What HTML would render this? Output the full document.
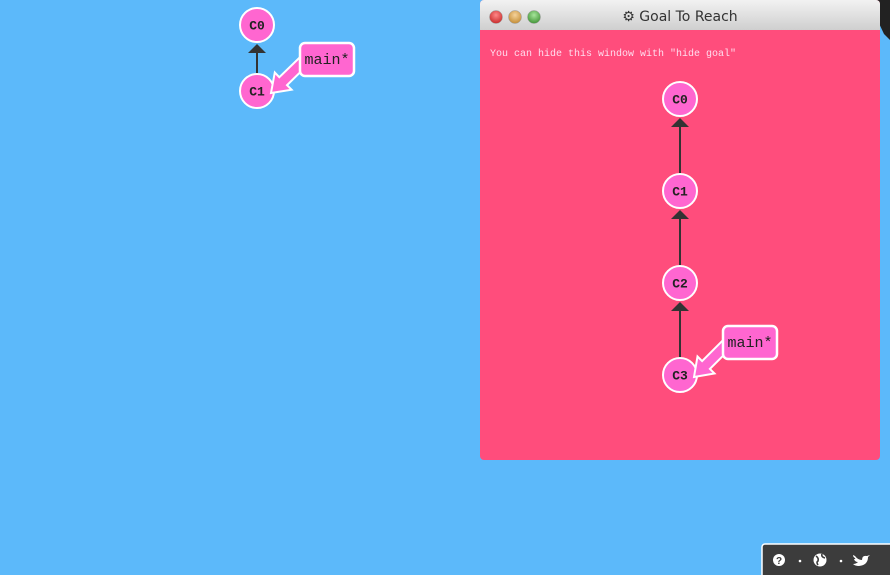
<!DOCTYPE html>
<html><head><meta charset="utf-8"><style>
html,body{margin:0;padding:0;width:890px;height:575px;overflow:hidden;background:#5cb9fa;font-family:"Liberation Sans",sans-serif}
</style></head><body>
<svg id="s" width="890" height="575" xmlns="http://www.w3.org/2000/svg">
<defs>
<linearGradient id="tb" x1="0" y1="0" x2="0" y2="1"><stop offset="0" stop-color="#f2f2f2"/><stop offset="1" stop-color="#cfcfcf"/></linearGradient>
<radialGradient id="rd" cx="0.5" cy="0.35" r="0.6"><stop offset="0" stop-color="#f88"/><stop offset="1" stop-color="#c33"/></radialGradient>
<radialGradient id="yl" cx="0.5" cy="0.35" r="0.6"><stop offset="0" stop-color="#f5d29a"/><stop offset="1" stop-color="#c8933f"/></radialGradient>
<radialGradient id="gr" cx="0.5" cy="0.35" r="0.6"><stop offset="0" stop-color="#a6e59a"/><stop offset="1" stop-color="#4a9a3f"/></radialGradient>
</defs>
<polygon points="868,0 890,0 890,40 884,34" fill="#222"/>
<g>
<rect x="480" y="0" width="400" height="460" rx="4" fill="#ff4d7c"/>
<path d="M480 30 V4 a4 4 0 0 1 4 -4 H876 a4 4 0 0 1 4 4 V30 Z" fill="url(#tb)"/>
<circle cx="496" cy="17" r="6.5" fill="url(#rd)" stroke="#999" stroke-width="0.5"/>
<circle cx="515" cy="17" r="6.5" fill="url(#yl)" stroke="#999" stroke-width="0.5"/>
<circle cx="534" cy="17" r="6.5" fill="url(#gr)" stroke="#999" stroke-width="0.5"/>
<text x="680" y="21" text-anchor="middle" font-size="14" fill="#333" font-family="DejaVu Sans, sans-serif">⚙ Goal To Reach</text>
<text x="490" y="56" font-size="10" fill="#fde" font-family="Liberation Mono, monospace">You can hide this window with "hide goal"</text>
</g>
<g id="graph"></g>
<g>
<rect x="762" y="544" width="140" height="40" rx="3" fill="#3c3c3c" stroke="#fff" stroke-width="1.5"/>
<circle cx="779" cy="560" r="6" fill="#fff"/>
<text x="779" y="564" text-anchor="middle" font-size="10" font-weight="bold" fill="#3c3c3c">?</text>
<circle cx="800" cy="561" r="1.3" fill="#fff"/>
<circle cx="820" cy="560" r="6.5" fill="#fff"/>
<path d="M816 556 q3 2 2 5 q-2 1 0 4 M822 554 q-1 3 3 4" stroke="#3c3c3c" stroke-width="1.6" fill="none"/>
<circle cx="841" cy="561" r="1.3" fill="#fff"/>
<path d="M855 556 q3 4 7 4 q0 -5 5 -4 l3 -1 -2 2 q0 8 -9 9 q-4 0 -6 -2 q3 0 5 -2 q-3 0 -4 -3 q2 0 1 -1 q-2 -1 -2 -3 z" fill="#fff"/>
</g>
</svg>
<script>
const leftNodes=["C0","C1"];
const leftY=[25,91];
const leftX=257;
const goalNodes=["C0","C1","C2","C3"];
const goalY=[99,191,283,375];
const goalX=680;
const NS="http://www.w3.org/2000/svg";
const g=document.getElementById("graph");
function mk(t,a){const e=document.createElementNS(NS,t);for(const k in a)e.setAttribute(k,a[k]);g.appendChild(e);return e;}
function drawTree(x,ys,names,prefix){
  for(let i=1;i<ys.length;i++){
    const l=mk("line",{x1:x,y1:ys[i]-17,x2:x,y2:ys[i-1]+26,stroke:"#333","stroke-width":2});
    
    
    const p=mk("polygon",{points:`${x-9},${ys[i-1]+28} ${x+9},${ys[i-1]+28} ${x},${ys[i-1]+19}`,fill:"#333"});
    
    
  }
  ys.forEach((y,i)=>{
    const c=mk("circle",{cx:x,cy:y,r:17,fill:"#ff66d0",stroke:"#fff","stroke-width":2});
    
    
    const t=mk("text",{x:x,y:y+4.5,"text-anchor":"middle","font-size":13,"font-weight":"bold","font-family":"Liberation Mono, monospace",fill:"#222"});
    t.textContent=names[i];
    
    
  });
}
function branch(bx,by,tx,ty,prefix){
  const sx=bx+8,sy=by+14;
  let dx=tx-sx,dy=ty-sy;const L=Math.hypot(dx,dy);dx/=L;dy/=L;
  const px=-dy,py=dx,hl=17,hw=12,sw=5.5;
  const hbx=tx-dx*hl,hby=ty-dy*hl;
  const pts=[[sx+px*sw,sy+py*sw],[hbx+px*sw,hby+py*sw],[hbx+px*hw,hby+py*hw],[tx,ty],[hbx-px*hw,hby-py*hw],[hbx-px*sw,hby-py*sw],[sx-px*sw,sy-py*sw]];
  const a=mk("polygon",{points:pts.map(p=>p[0].toFixed(1)+","+p[1].toFixed(1)).join(" "),fill:"#ff66d0",stroke:"#fff","stroke-width":2});
  
  
  const r=mk("rect",{x:bx,y:by,width:54,height:33,rx:5,fill:"#ff66d0",stroke:"#fff","stroke-width":2.5});
  
  
  const t=mk("text",{x:bx+27,y:by+21,"text-anchor":"middle","font-size":15,"font-family":"Liberation Mono, monospace",fill:"#222"});
  t.textContent="main*";
  
  
}
drawTree(leftX,leftY,leftNodes,"repo");
branch(300,43,leftX+14,leftY[1]+2,"repo");
drawTree(goalX,goalY,goalNodes,"goal");
branch(723,326,goalX+14,goalY[3]+2,"goal");
</script>
</body></html>
